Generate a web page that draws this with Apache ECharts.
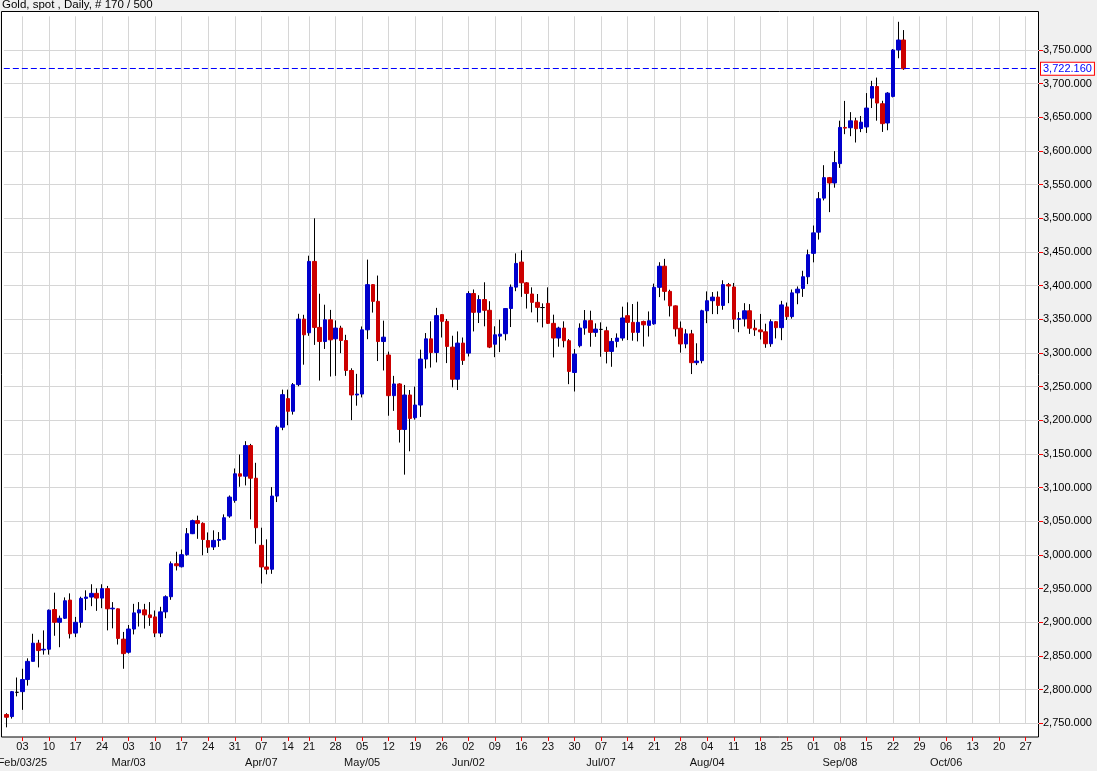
<!DOCTYPE html>
<html><head><meta charset="utf-8">
<script src="https://cdn.jsdelivr.net/npm/echarts@6/dist/echarts.min.js"></script>
<style>html,body{margin:0;padding:0;background:#f0f0f0}#c{width:1097px;height:771px}</style>
</head><body><div id="c"></div>
<script>
const titleText = 'Gold, spot , Daily, # 170 / 500';
const firstDay = '2025-01-29';
const lastAxisDay = '2025-10-29';
const holidays = ['2025-04-18'];
const monthLabels = {
  '2025-02-03': 'Feb/03/25', '2025-03-03': 'Mar/03', '2025-04-07': 'Apr/07',
  '2025-05-05': 'May/05', '2025-06-02': 'Jun/02', '2025-07-07': 'Jul/07',
  '2025-08-04': 'Aug/04', '2025-09-08': 'Sep/08', '2025-10-06': 'Oct/06'
};
const yMin = 2750, yMax = 3800, yStep = 50;
// [open, close, low, high]
const ohlc = [
[2763,2759,2744,2765],[2760,2797,2757,2798],[2796,2796,2790,2818],
[2797,2815,2770,2831],[2815,2842,2806,2846.5],[2842,2869,2842,2883],[2869,2858,2833,2874],[2859,2860,2852,2888],
[2860,2918,2852,2919],[2919,2900,2880,2944],[2900,2906,2863,2910],[2906,2932,2905,2937],[2933,2883,2876,2943],
[2884,2900,2878,2908],[2900,2935.5,2892,2938],[2935.5,2937.5,2918,2947.5],[2937.5,2943,2924,2956.5],[2943,2936,2917,2950.5],
[2936,2950,2921,2956.5],[2950,2920,2888,2954],[2920,2921,2891,2930],[2920,2876,2867,2920.5],[2875,2853.5,2831,2885.7],
[2855.5,2890,2853.5,2896],[2890,2914,2882,2927.4],[2914,2918.5,2893.7,2930],[2918.5,2911,2890.7,2927.4],[2911,2907,2894.7,2930],
[2908,2884,2878,2917.5],[2884,2915.5,2878,2923],[2915.5,2938,2906,2940],[2938,2987,2933.4,2990.4],[2987,2984,2977,3004.8],
[2982.5,3000.4,2981.5,3008],[3000.4,3031.6,2999,3040],[3031.6,3051,3031,3052.5],[3051,3047,3024,3058.4],[3047,3023,2999.6,3048.5],
[3021.5,3011.5,3003,3033.5],[3011.9,3021.7,3007.4,3036.6],[3021.7,3023,3012,3034],[3023,3055.3,3022,3060.3],[3057.8,3086,3055.3,3088.4],
[3081,3120.6,3077.6,3128.5],[3120.6,3117,3101.3,3149.2],[3117,3162.5,3103.3,3169],[3162.5,3114,3052.9,3165],[3114,3040.5,3016.8,3136.9],
[3014.3,2982.2,2957.5,3040.5],[2982.2,2978.8,2971.3,3023.2],[2978.8,3087.5,2972,3100.8],[3087.5,3189.7,3078.6,3192.2],[3189.7,3238.1,3185.3,3245.6],
[3232.2,3213.4,3192.7,3245.6],[3213.4,3253,3208.5,3255.4],[3253,3350.3,3250.5,3358.2],[3350.3,3327,3282.6,3356.7],
[3330,3436,3325.5,3444.5],[3436,3338,3312,3500],[3338,3317,3259,3388],[3317,3349.3,3306,3371.7],[3349.3,3319.5,3265,3364],
[3321,3337,3266,3348.3],[3337,3318.5,3299.7,3340.4],[3318.5,3274,3266,3327],[3274,3237.6,3200.3,3277.3],[3237.6,3239,3221.7,3269],
[3239,3334.4,3234,3339.4],[3334.4,3401.5,3320.5,3438.7],[3401.5,3376.7,3360,3402],[3376.7,3317,3288,3415],[3317,3323.5,3274,3348],
[3297,3236.6,3206.8,3302],[3236.6,3254,3214,3266],[3254,3186.4,3167,3255],[3186.4,3237.6,3119.3,3252.5],[3237.6,3202.8,3154,3245],
[3203.8,3222.7,3201,3250],[3222.7,3291,3205,3305],[3291,3321,3277,3329.6],[3321,3300.7,3278.4,3347],[3300.7,3355.5,3286,3367],
[3357,3347,3323,3357.5],[3347,3309.7,3285,3350.5],[3308.7,3261,3249,3325.6],[3261,3314.7,3245,3332],[3314.7,3289,3282.3,3323],
[3299.8,3388.3,3294.8,3391.8],[3388.3,3360.4,3332,3394.3],[3360.4,3379.4,3344.5,3385.8],[3379.4,3363.4,3339.6,3405],[3363.4,3308.7,3307.2,3376.9],
[3313,3327,3293.8,3339.6],[3325,3328,3301.3,3349.5],[3328.6,3366,3318.7,3366.5],[3366,3397.8,3338.5,3401.7],[3397.8,3433,3391.8,3448],
[3435,3404.2,3383.3,3452.5],[3404.2,3388.5,3366,3405.2],[3387.6,3375.2,3360.3,3397.5],[3375.2,3367.8,3345.5,3387.6],[3367.5,3367.5,3338,3373.7],
[3373.7,3344,3343,3397.5],[3344,3322.2,3293.4,3356.9],[3322.2,3337,3309.3,3339],[3337,3318.2,3308.3,3347],[3318.2,3272.6,3253.7,3320.7],
[3271,3298.4,3242.8,3305.8],[3310.8,3337,3308.3,3344],[3337,3348,3327.1,3363.8],[3348,3330.6,3309.3,3362.8],[3330.6,3335.5,3324,3344],
[3335,3335,3294.4,3345.5],[3333,3302.3,3284.5,3339],[3302.3,3317.2,3279.5,3322.2],[3317.2,3322.2,3308.3,3329.1],[3322.2,3352,3318.2,3368.8],
[3355.4,3345.5,3319.2,3375.2],[3345.5,3330.6,3318.2,3372.7],[3330.6,3345.5,3317.2,3376.2],[3346.8,3341.8,3309.5,3348],[3341,3347.8,3324.4,3361.7],
[3343.3,3397.5,3342,3403],[3397.5,3428.9,3383,3434.8],[3428.9,3391.5,3378,3439.8],[3391.5,3370,3354.2,3394],[3370,3335.8,3324.4,3370.5],
[3336.8,3313.4,3300.5,3346.8],[3313.4,3328.4,3307,3335.3],[3328.4,3285.6,3268.7,3334.3],[3285.6,3288,3282,3314.4],[3288.6,3362.7,3284.6,3364.2],
[3362.7,3377.6,3344.3,3391.5],[3377.6,3383,3357.7,3390.5],[3383,3370.6,3357.7,3391.5],[3370.6,3401.5,3364.2,3408],[3401.5,3399.5,3374,3404],
[3398,3350.2,3335.8,3404],[3350,3351,3330.8,3360.7],[3350.7,3362.7,3339.3,3374],[3362.7,3336.8,3328.4,3372.6],[3336.8,3334.3,3325.4,3349.3],
[3334.3,3331.5,3320,3358],[3331.5,3313.7,3307.7,3343.5],[3313.7,3346.5,3309.2,3350],[3346.5,3337.6,3321.6,3347.5],[3337.6,3371.4,3319,3377.4],
[3368.4,3354,3349,3374.9],[3354,3389.3,3351,3394.3],[3389.3,3394.8,3372.4,3398.8],[3395.8,3413.2,3383.3,3422.1],[3413.2,3446,3402.2,3453.5],
[3448,3478.4,3434.6,3489.3],[3479.4,3529.1,3468.4,3539],[3530,3560.4,3526.6,3578.9],[3560.4,3552.5,3509.2,3561.4],[3552.5,3582.8,3545.5,3599.8],
[3581.3,3635,3574.9,3645],[3635,3634,3625,3674.4],[3634.5,3644.8,3622,3657.7],[3644.8,3633,3612.6,3649.5],[3633.4,3642.8,3628,3652],
[3635.7,3663.8,3626.8,3686],[3678.6,3695.8,3663.8,3704.2],[3695.8,3671.2,3645,3709],[3670.2,3640.6,3628.3,3674.6],[3641.6,3686,3630.8,3687.4],
[3681,3750,3679.6,3751.5],[3750,3764.8,3737.7,3791.9],[3764.8,3722.16,3720.5,3779.6]
];

function buildDates() {
  const out = [];
  let t = Date.parse(firstDay + 'T00:00:00Z');
  const end = Date.parse(lastAxisDay + 'T00:00:00Z');
  while (t <= end) {
    const d = new Date(t);
    const wd = d.getUTCDay();
    const s = d.toISOString().slice(0, 10);
    if (wd !== 0 && wd !== 6 && holidays.indexOf(s) < 0) out.push(s);
    t += 86400000;
  }
  return out;
}
const dates = buildDates();
const isMonday = (i, v) => new Date(v + 'T00:00:00Z').getUTCDay() === 1;
const isMonthStart = (i, v) => Object.prototype.hasOwnProperty.call(monthLabels, v);
const bodies = ohlc.map(r => [r[0], r[1], Math.min(r[0], r[1]), Math.max(r[0], r[1])]);
const lastClose = ohlc[ohlc.length - 1][1];
const fmt = v => Number(v).toLocaleString('en-US', {minimumFractionDigits: 3, maximumFractionDigits: 3});
const FONT = 'Liberation Sans, Arial, sans-serif';

const chart = echarts.init(document.getElementById('c'), null, {renderer: 'canvas'});
chart.setOption({
  backgroundColor: '#f0f0f0',
  animation: false,
  title: {
    text: titleText, left: 2, top: -1, padding: 0,
    textStyle: {fontSize: 11.5, fontWeight: 'normal', color: '#000', fontFamily: FONT}
  },
  graphic: {elements: [{
    type: 'rect', z: -100, silent: true,
    shape: {x: 1.5, y: 11.5, width: 1037, height: 725.5},
    style: {fill: '#ffffff', stroke: '#000000', lineWidth: 1}
  }]},
  grid: {left: 3.83, right: 58, top: 16.33, bottom: 47.7, containLabel: false, outerBoundsMode: 'none'},
  xAxis: [{
    type: 'category', data: dates, boundaryGap: true, offset: 13.7,
    axisLine: {show: false},
    axisTick: {show: true, interval: isMonday, alignWithLabel: true, length: 4, lineStyle: {color: '#ff0000'}},
    axisLabel: {
      interval: isMonday, margin: 4, color: '#111', fontSize: 11, fontFamily: FONT,
      showMinLabel: true, showMaxLabel: true, hideOverlap: false,
      formatter: v => v.slice(8, 10)
    },
    splitLine: {show: true, interval: isMonday, alignWithLabel: true, lineStyle: {color: '#d6d6d6', width: 1}}
  }, {
    type: 'category', data: dates, boundaryGap: true, offset: 13.7, position: 'bottom',
    axisLine: {show: false}, axisTick: {show: false}, splitLine: {show: false},
    axisLabel: {
      interval: isMonthStart, margin: 20, color: '#111', fontSize: 11, fontFamily: FONT,
      showMinLabel: true, showMaxLabel: true, hideOverlap: false,
      formatter: v => monthLabels[v] || ''
    }
  }],
  yAxis: {
    type: 'value', position: 'right', min: yMin, max: yMax, interval: yStep, scale: true,
    axisLine: {show: false},
    axisTick: {show: true, length: 4, lineStyle: {color: '#ff0000'}},
    axisLabel: {margin: 4, color: '#000', fontSize: 11, fontFamily: FONT, showMaxLabel: false, formatter: fmt},
    splitLine: {show: true, showMaxLine: false, lineStyle: {color: '#d6d6d6', width: 1}}
  },
  series: [
    {
      name: 'wicks', type: 'candlestick', data: ohlc, barWidth: 1, clip: false, silent: true,
      itemStyle: {color: '#000', color0: '#000', borderColor: '#000', borderColor0: '#000', borderColorDoji: '#000', borderWidth: 1}
    },
    {
      name: 'bodies', type: 'candlestick', data: bodies, barWidth: 4, clip: false, silent: true,
      itemStyle: {color: '#0000cc', color0: '#cc0000', borderColor: '#0000cc', borderColor0: '#cc0000', borderColorDoji: '#000', borderWidth: 1},
      markLine: {
        silent: true, symbol: ['none', 'none'], animation: false,
        lineStyle: {color: '#0000ff', type: [6, 3], width: 1},
        label: {
          show: true, position: 'end', distance: 2, formatter: p => fmt(p.value),
          color: '#0000ff', fontSize: 11, fontFamily: FONT,
          backgroundColor: '#fff', borderColor: '#ff0000', borderWidth: 1, padding: [1, 2, 0, 2]
        },
        data: [{yAxis: lastClose}]
      }
    }
  ]
});
</script></body></html>
